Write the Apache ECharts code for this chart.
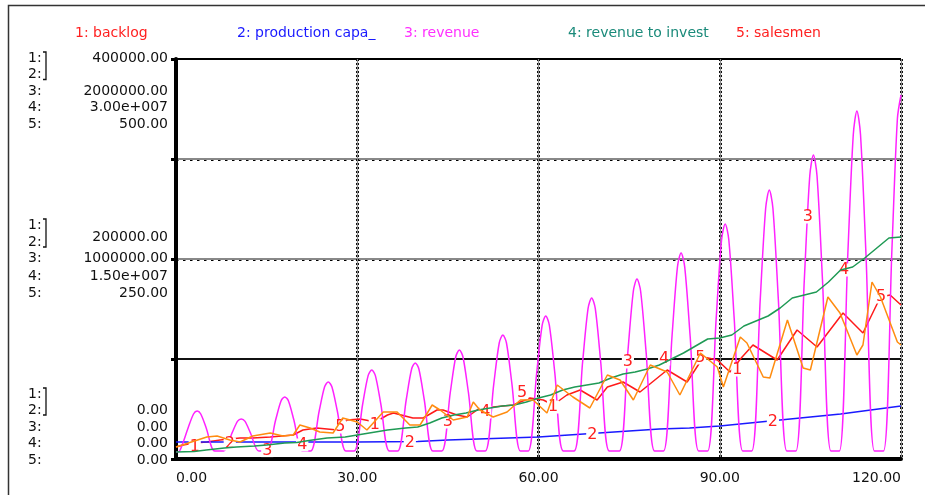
<!DOCTYPE html>
<html><head><meta charset="utf-8">
<script src="https://cdn.jsdelivr.net/npm/echarts@6/dist/echarts.min.js"></script>
<style>html,body{margin:0;padding:0;background:#fff}#c{width:925px;height:495px}</style>
</head><body><div id="c"></div>
<script>
// ---------- data ----------
const seriesNames = ['backlog', 'production capa_', 'revenue', 'revenue to invest', 'salesmen'];
const axisMax = [400000, 400000, 2000000, 30000000, 500];
const timeMax = 120;
const timeStep = 30;

const backlog = [[0,12000],[1.2,14000],[3,16000],[5.1,17000],[7.3,19000],[10.6,21000],[12.7,21000],[15.6,22000],[19.4,24000],[21,29000],[23.3,31000],[26.7,29000],[28.3,39000],[30.5,40000],[33,37000],[35,44000],[36,46000],[39.2,41000],[40.9,41000],[43.2,49000],[44.2,49000],[46.5,44000],[48.2,42000],[50.3,51000],[52.5,52000],[55.8,54000],[58.6,61000],[60.8,59000],[62.4,54000],[64.7,64000],[66.9,69000],[69.7,59000],[71.4,72000],[74,77000],[76.8,67000],[81.3,89000],[84.6,77000],[87.3,102000],[89.6,99000],[91.7,87000],[93.7,102000],[95.5,114000],[99.5,99000],[102.8,129000],[106.1,112000],[110.4,146000],[113.7,126000],[116.6,162000],[118.2,164000],[120,154000]];

const productionCapa = [[0,17000],[30,17000],[40,17500],[45,19000],[50,20000],[55,21000],[60,22000],[65,24000],[70,26000],[75,28000],[80,30000],[85,31000],[90,33000],[95,36000],[100,39000],[105,42000],[110,45000],[115,49000],[120,53000]];

const revenue = [[0,35000],[0.6,40000],[2.0,155000],[2.9,225000],[3.5,240000],[4.1,225000],[5.0,155000],[6.4,40000],
[7.9,40000],[9.3,132000],[10.2,189000],[10.8,200000],[11.4,189000],[12.3,132000],[13.7,40000],
[15.1,40000],[16.5,196000],[17.4,291000],[18.0,310000],[18.6,291000],[19.5,196000],[20.9,40000],
[22.3,40000],[23.7,240000],[24.6,361000],[25.2,385000],[25.8,361000],[26.7,240000],[28.1,40000],
[29.5,40000],[30.9,275000],[31.8,417000],[32.4,445000],[33.0,417000],[33.9,275000],[35.3,40000],
[36.7,40000],[38.1,295000],[39.0,450000],[39.6,480000],[40.2,450000],[41.1,295000],[42.5,40000],
[44.0,40000],[45.4,333000],[46.3,510000],[46.9,545000],[47.5,510000],[48.4,333000],[49.8,40000],
[51.2,40000],[52.6,376000],[53.5,580000],[54.1,620000],[54.7,580000],[55.6,376000],[57.0,40000],
[58.3,40000],[59.7,431000],[60.6,668000],[61.2,715000],[61.8,668000],[62.7,431000],[64.1,40000],
[65.9,40000],[67.3,484000],[68.2,752000],[68.8,805000],[69.4,752000],[70.3,484000],[71.7,40000],
[73.4,40000],[74.8,539000],[75.7,840000],[76.3,900000],[76.9,840000],[77.8,539000],[79.2,40000],
[80.7,40000],[82.1,614000],[83.0,961000],[83.6,1030000],[84.2,961000],[85.1,614000],[86.5,40000],
[88.0,40000],[89.4,698000],[90.3,1096000],[90.9,1175000],[91.5,1096000],[92.4,698000],[93.8,40000],
[95.3,40000],[96.7,797000],[97.6,1254000],[98.2,1345000],[98.8,1254000],[99.7,797000],[101.1,40000],
[102.6,40000],[104.0,898000],[104.9,1416000],[105.5,1520000],[106.1,1416000],[107.0,898000],[108.4,40000],
[109.8,40000],[111.2,1026000],[112.1,1621000],[112.7,1740000],[113.3,1621000],[114.2,1026000],[115.6,40000],
[117.1,40000],[118.5,1050000],[119.4,1700000],[120,1820000]];

const revenueToInvest = [[0,525000],[3,562500],[5,675000],[8,825000],[10,900000],[13,975000],[15,1050000],[18,1200000],[20,1237500],[22,1387500],[25,1575000],[28,1650000],[30,1800000],[32,1950000],[35,2175000],[38,2325000],[40,2400000],[42,2700000],[44,3075000],[46,3300000],[48,3450000],[50,3675000],[52,3825000],[54,3975000],[56,4050000],[58,4275000],[60,4575000],[62,4800000],[64,5175000],[66,5400000],[68,5550000],[70,5700000],[72,6075000],[74,6375000],[76,6525000],[78,6750000],[80,7050000],[82,7500000],[84,7950000],[86,8475000],[88,9000000],[90,9075000],[92,9300000],[94,9975000],[96,10350000],[98,10725000],[100,11325000],[102,12075000],[104,12300000],[106,12525000],[108,13275000],[110,14175000],[112,14400000],[114,15075000],[116,15825000],[118,16575000],[120,16650000]];

const salesmen = [[0,15],[5.1,27.5],[6.8,28.75],[8.9,23.75],[10.6,21.25],[12.7,28.75],[15.6,32.5],[17.7,28.75],[19.4,30],[20.5,42.5],[22.2,38.75],[23.8,33.75],[26,32.5],[27.6,51.25],[30,46.25],[31.6,36.25],[34.3,58.75],[36.6,58.75],[38.7,42.5],[40.4,42.5],[42.4,67.5],[43.7,61.25],[45.9,48.75],[48.2,52.5],[49.2,71.25],[50.3,61.25],[52.5,52.5],[54.8,58.75],[57,73.75],[59.1,73.75],[61.4,57.5],[63.1,92.5],[65.7,77.5],[68.5,63.75],[71.4,105],[73.5,98.75],[75.7,73.75],[78.5,117.5],[81.3,108.75],[83.4,80],[86.8,132.5],[89.6,115],[90.6,90],[93.4,152.5],[94.5,145],[97.2,102.5],[98.3,101.25],[101.2,173.75],[103.8,113.75],[105,111.25],[107.9,202.5],[109.9,182.5],[112.7,130],[113.7,142.5],[115.2,221.25],[116.6,202.5],[119.4,146.25],[120,142.5]];

// curve number labels: [series index, time, value]
const curveLabels = [[0,3.1,12000],[1,8.9,15000],[2,15.1,42000],[3,20.9,1050000],[4,27.2,40],
[0,32.9,34000],[1,38.7,16000],[2,45.0,185000],[3,51.2,3525000],[4,57.3,82.5],
[0,62.4,52000],[1,68.9,24000],[2,74.8,485000],[3,80.8,7500000],[4,86.8,126.25],
[0,92.9,89000],[1,98.8,37000],[2,104.6,1210000],[3,110.6,14175000],[4,116.7,202.5]];

const allData = [backlog, productionCapa, revenue, revenueToInvest, salesmen];

// ---------- styles / layout ----------
const lineColors = ['#ff1a1a', '#1a1aff', '#ff22ff', '#1f9a55', '#ff8c10'];
const legendColors = ['#ff2020', '#1a1aff', '#ff30ff', '#1a8a7a', '#ff2020'];
const smoothness = [0, 0, 0.3, 0, 0];
const legendX = [75, 237, 404, 568, 736];
const FONT = '"DejaVu Sans", sans-serif';
const T = 'rgba(0,0,0,0)';

function fmt(v, i) {
  if (i === 3 && v !== 0) {
    return v.toExponential(2).replace(/e\+(\d+)/, (m, d) => 'e+' + d.padStart(3, '0'));
  }
  return v.toFixed(2);
}

const chart = echarts.init(document.getElementById('c'), null, {renderer: 'canvas'});

const graphics = [];
graphics.push({type: 'rect', shape: {x: 8.5, y: 5.5, width: 1000, height: 1000}, style: {fill: 'none', stroke: '#333', lineWidth: 1.5}, silent: true, z: 0});
seriesNames.forEach((n, i) => {
  graphics.push({type: 'text', x: legendX[i], y: 33, style: {text: (i + 1) + ': ' + n, fill: legendColors[i], font: '14px ' + FONT, textVerticalAlign: 'middle'}});
});
const blocks = [
  {frac: 1, lines: [58, 74.5, 91, 107.5, 124], v12y: 58},
  {frac: 0.5, lines: [225, 242, 258, 276, 293], v12y: 237},
  {frac: 0, lines: [394, 410, 427, 443, 460], v12y: 410}
];
blocks.forEach(b => {
  for (let k = 0; k < 5; k++) {
    graphics.push({type: 'text', x: 28, y: b.lines[k], style: {text: (k + 1) + ':', fill: '#111', font: '14px ' + FONT, textVerticalAlign: 'middle'}});
  }
  graphics.push({type: 'polyline', shape: {points: [[43, b.lines[0] - 6], [46, b.lines[0] - 6], [46, b.lines[1] + 5], [43, b.lines[1] + 5]]}, style: {stroke: '#111', lineWidth: 1.3, fill: 'none'}});
  const vals = [[0, b.v12y], [2, b.lines[2]], [3, b.lines[3]], [4, b.lines[4]]];
  vals.forEach(([si, y]) => {
    graphics.push({type: 'text', x: 168, y: y, style: {text: fmt(axisMax[si] * b.frac, si), fill: '#111', font: '14px ' + FONT, textAlign: 'right', textVerticalAlign: 'middle'}});
  });
});

const yAxes = axisMax.map((m, i) => {
  let split = {show: false};
  if (i === 0) split = {show: true, lineStyle: {color: [T, T, '#000', '#000', T], width: 3, type: [2.5, 4.5]}};
  if (i === 1) split = {show: true, lineStyle: {color: [T, '#111', '#888', '#888', '#000'], width: 2}};
  return {
    type: 'value', min: 0, max: m, interval: m / 4, position: 'left',
    axisLabel: {show: false},
    axisLine: {show: i === 0, onZero: false, lineStyle: {color: '#000', width: 4}},
    axisTick: {show: i === 0, length: 5, lineStyle: {color: '#000', width: 3}},
    splitLine: split
  };
});

const series = allData.map((d, i) => ({
  name: seriesNames[i], type: 'line', yAxisIndex: i, xAxisIndex: 0, data: d,
  showSymbol: false, symbol: 'none', smooth: smoothness[i], z: 2 + i,
  lineStyle: {color: lineColors[i], width: 1.5},
  markPoint: {
    symbol: 'rect', symbolSize: 1, silent: true, itemStyle: {color: T},
    label: {show: true, position: 'inside', formatter: String(i + 1), color: '#ff2020', fontSize: 16, fontFamily: 'DejaVu Sans', backgroundColor: '#fff', padding: [0, 1], lineHeight: 13},
    data: curveLabels.filter(l => l[0] === i).map(l => ({coord: [l[1], l[2]]}))
  }
}));

chart.setOption({
  animation: false,
  backgroundColor: '#fff',
  grid: {left: 176, right: 24, top: 59, bottom: 36, containLabel: false},
  xAxis: [{
    type: 'value', min: 0, max: timeMax, interval: timeStep,
    axisLine: {onZero: false, lineStyle: {color: '#000', width: 4}},
    axisTick: {show: false},
    axisLabel: {formatter: v => v.toFixed(2), color: '#111', fontSize: 14, fontFamily: 'DejaVu Sans', margin: 12, alignMinLabel: 'left', alignMaxLabel: 'right'},
    splitLine: {show: true, lineStyle: {color: '#000', width: 3, type: [2, 2]}}
  }, {
    type: 'value', min: 0, max: timeMax, interval: timeStep, position: 'top',
    axisLine: {show: false}, axisTick: {show: false}, axisLabel: {show: false},
    splitLine: {show: true, lineStyle: {color: '#888', width: 1.2}}
  }],
  yAxis: yAxes,
  series: series,
  graphic: graphics
});
</script></body></html>
